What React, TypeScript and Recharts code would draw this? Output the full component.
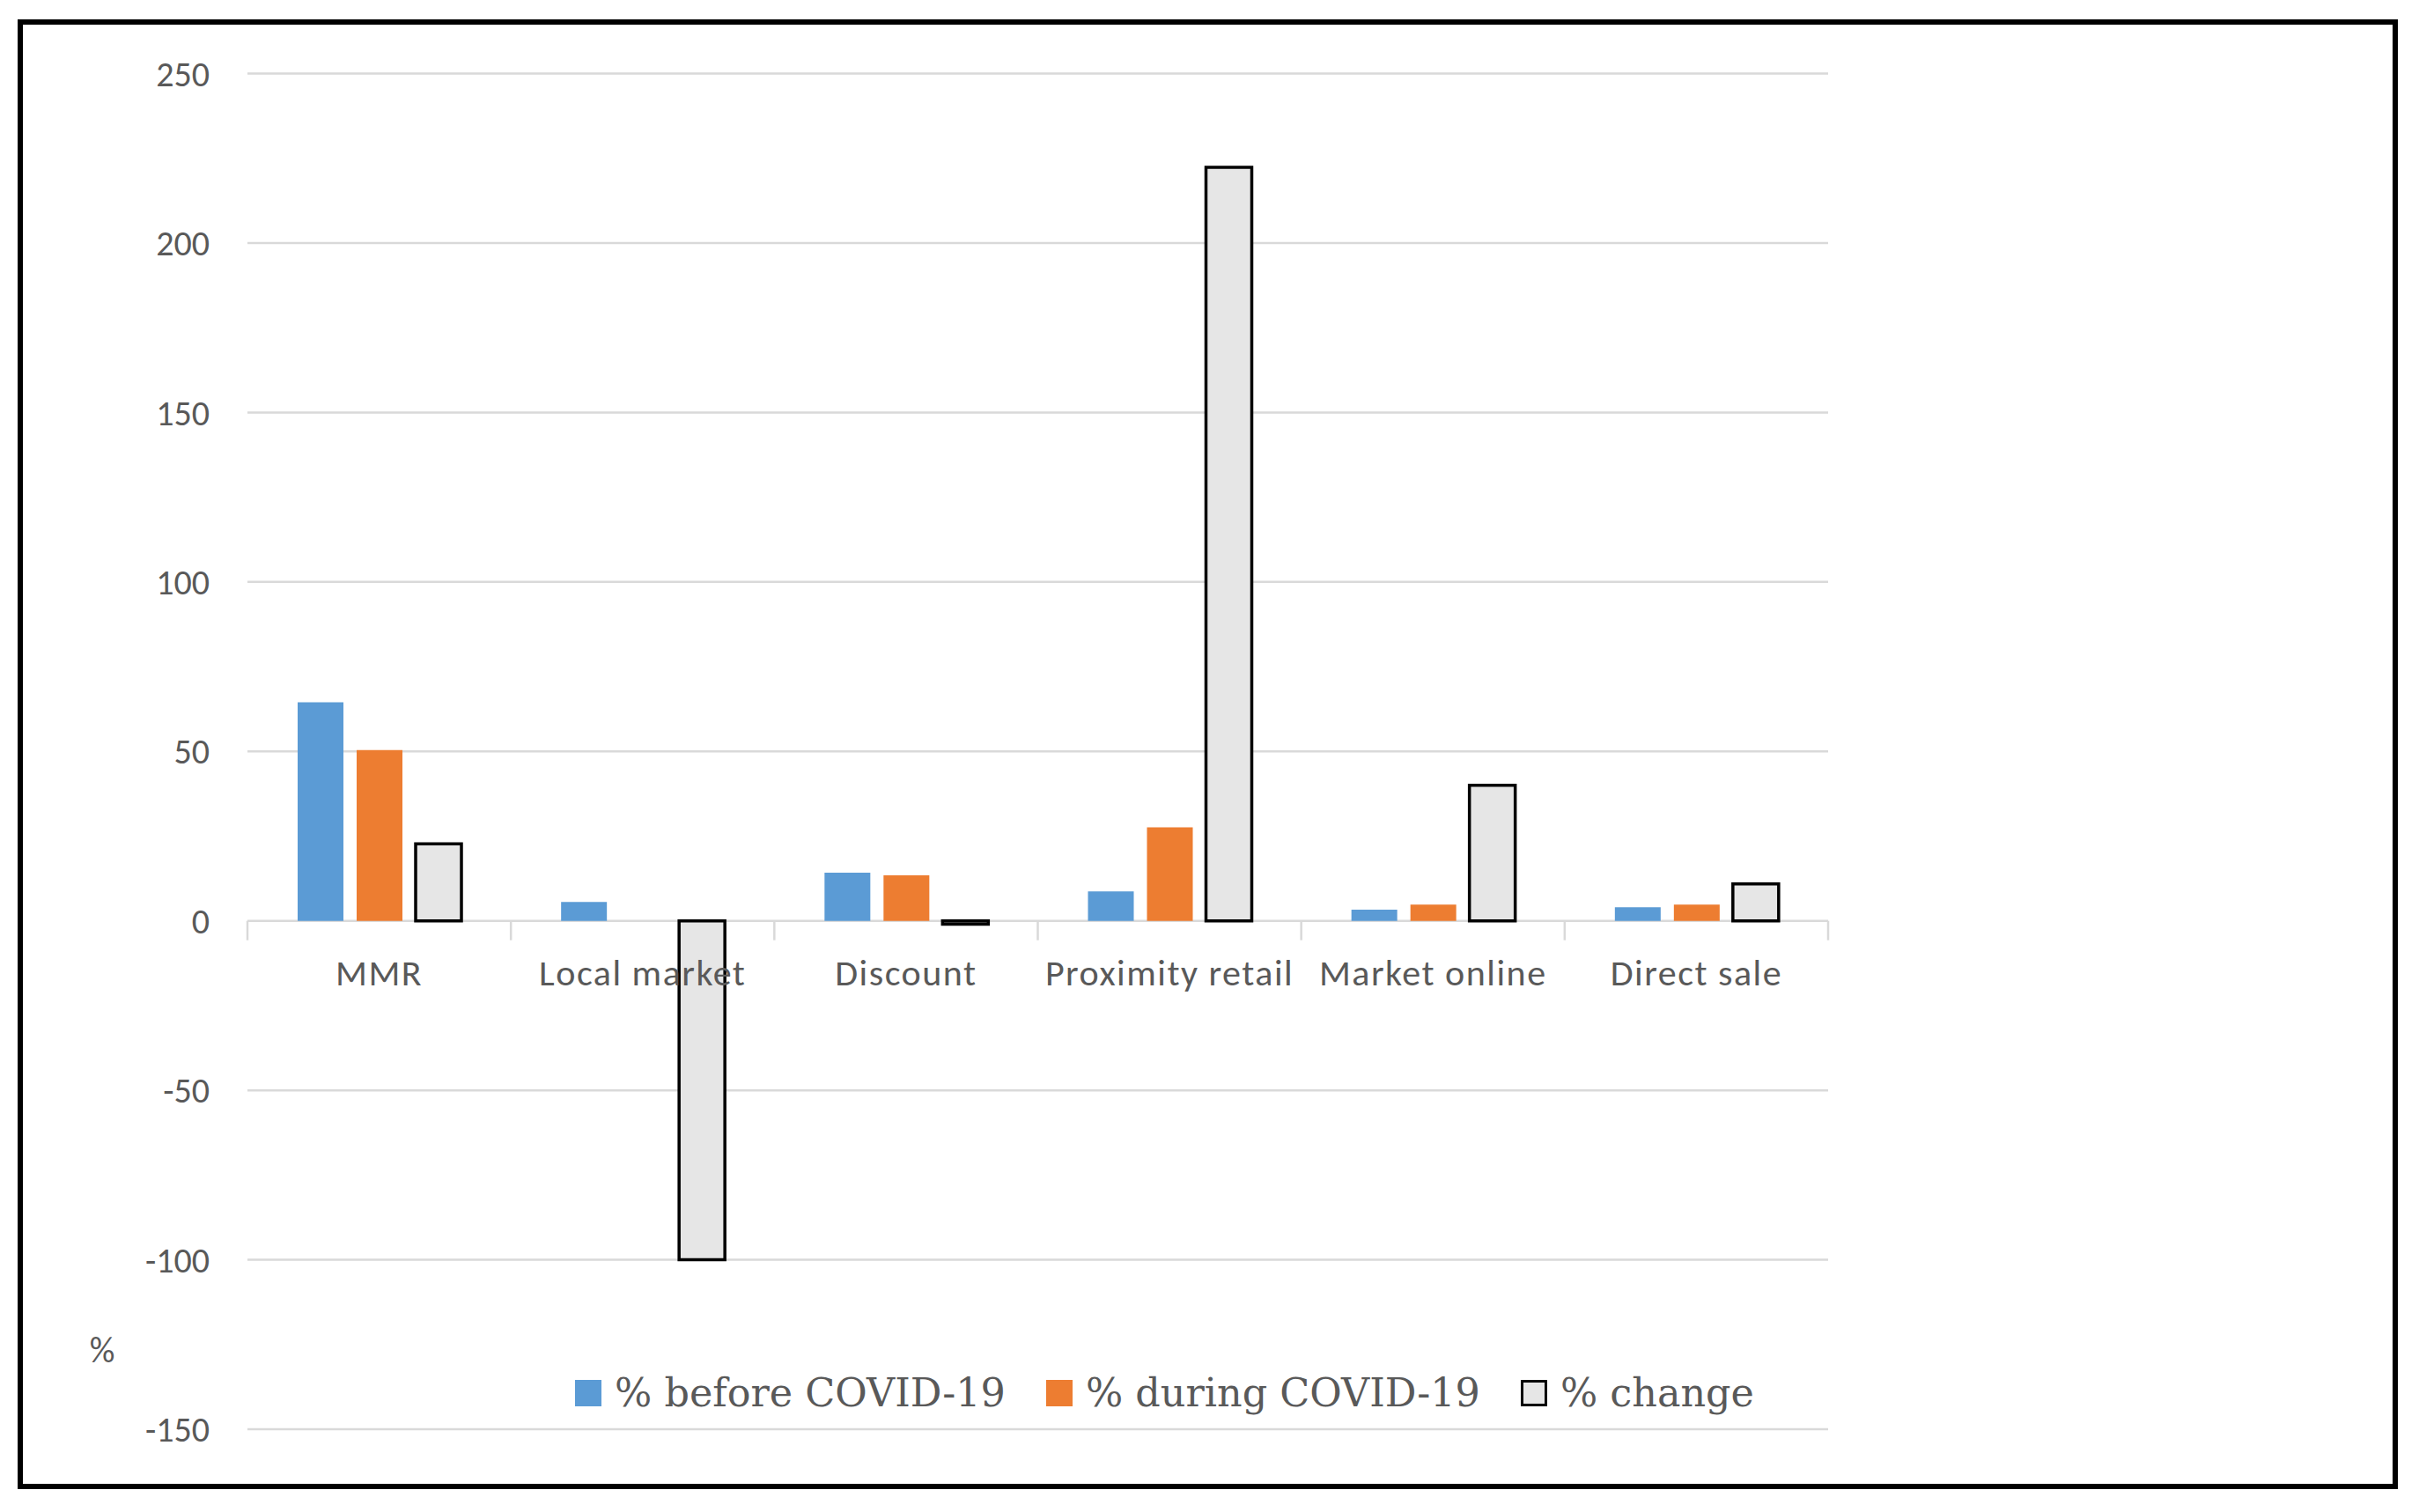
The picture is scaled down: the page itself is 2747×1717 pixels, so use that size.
import React from 'react';
import { Bar, BarChart, CartesianGrid, Legend, XAxis, YAxis } from 'recharts';

const categories = ['MMR', 'Local market', 'Discount', 'Proximity retail', 'Market online', 'Direct sale'];
const beforeCovid = [64.5, 5.6, 14.2, 8.7, 3.3, 4.0];
const duringCovid = [50.4, 0, 13.4, 27.6, 4.8, 4.8];
const change = [22.7, -100, -1, 222.3, 40, 10.9];
const yTicks = [-150, -100, -50, 0, 50, 100, 150, 200, 250];

const seriesNames = ['% before COVID-19', '% during COVID-19', '% change'];

const W = 2747;
const H = 1717;
const PLOT_LEFT = 281;
const PLOT_RIGHT = 2076;
const PLOT_TOP = 83.5;
const PLOT_BOTTOM = 1623;
const Y_AXIS_W = 80;
const X_AXIS_H = 40;

const Y_MIN = -150;
const Y_MAX = 250;
const ZERO_Y = PLOT_TOP + ((Y_MAX - 0) / (Y_MAX - Y_MIN)) * (PLOT_BOTTOM - PLOT_TOP);
const BAND = (PLOT_RIGHT - PLOT_LEFT) / categories.length;

const TEXT = '#595959';
const GRID = '#d9d9d9';
const SANS = 'Carlito, Lato, "Open Sans", sans-serif';

const data = categories.map((name, i) => ({
  name,
  before: beforeCovid[i],
  during: duringCovid[i],
  change: change[i],
}));

const swatches = [
  { fill: '#5b9bd5', stroke: 'none' },
  { fill: '#ed7d31', stroke: 'none' },
  { fill: '#e6e6e6', stroke: '#000' },
];

const CategoryTick = (props: any) => {
  const { x, payload, index } = props;
  const left = x - BAND / 2;
  return (
    <g>
      <line x1={left} x2={left} y1={ZERO_Y} y2={ZERO_Y + 22} stroke={GRID} strokeWidth={2.5} />
      {index === categories.length - 1 && (
        <line x1={left + BAND} x2={left + BAND} y1={ZERO_Y} y2={ZERO_Y + 22} stroke={GRID} strokeWidth={2.5} />
      )}
      <text
        x={x}
        y={ZERO_Y + 63}
        textAnchor="middle"
        dominantBaseline="middle"
        fill={TEXT}
        fontSize={42}
        letterSpacing={1.5}
        fontFamily={SANS}
      >
        {payload.value}
      </text>
    </g>
  );
};

const LegendContent = () => (
  <div style={{ display: 'flex', alignItems: 'center', whiteSpace: 'nowrap' }}>
    {seriesNames.map((name, i) => (
      <div key={name} style={{ display: 'flex', alignItems: 'center', marginRight: 46 }}>
        <span
          style={{
            width: 30,
            height: 30,
            boxSizing: 'border-box',
            background: swatches[i].fill,
            border: swatches[i].stroke === 'none' ? 'none' : `3.5px solid ${swatches[i].stroke}`,
            marginRight: 15,
            display: 'inline-block',
          }}
        />
        <span style={{ fontFamily: '"DejaVu Serif", serif', fontSize: 44.5, color: TEXT }}>{name}</span>
      </div>
    ))}
  </div>
);

export default function App() {
  return (
    <div style={{ position: 'absolute', left: 0, top: 0, width: W, height: H, background: '#fff' }}>
      <div
        style={{
          position: 'absolute',
          left: 20,
          top: 22,
          width: 2703,
          height: 1669,
          border: '6px solid #000',
          boxSizing: 'border-box',
        }}
      />
      <div style={{ position: 'absolute', left: 0, top: 0 }}>
        <BarChart
          width={W}
          height={H}
          data={data}
          barSize={52}
          barGap={15}
          margin={{
            top: PLOT_TOP,
            bottom: H - PLOT_BOTTOM - X_AXIS_H,
            left: PLOT_LEFT - Y_AXIS_W,
            right: W - PLOT_RIGHT,
          }}
        >
          <CartesianGrid vertical={false} stroke={GRID} strokeWidth={2.5} />
          <XAxis
            dataKey="name"
            height={X_AXIS_H}
            axisLine={false}
            tickLine={false}
            interval={0}
            tick={<CategoryTick />}
          />
          <YAxis
            width={Y_AXIS_W}
            domain={[Y_MIN, Y_MAX]}
            ticks={yTicks}
            axisLine={false}
            tickLine={false}
            tickSize={0}
            tickMargin={43}
            tick={{ fill: TEXT, fontSize: 40, fontFamily: SANS }}
            label={{
              content: () => (
                <text
                  x={116}
                  y={1537}
                  textAnchor="middle"
                  dominantBaseline="middle"
                  fill={TEXT}
                  fontSize={40}
                  fontFamily={SANS}
                >
                  %
                </text>
              ),
            }}
          />
          <Legend
            verticalAlign="middle"
            align="center"
            content={<LegendContent />}
            wrapperStyle={{ left: 653, top: 1556, width: 'auto' }}
          />
          <Bar dataKey="before" name={seriesNames[0]} fill={swatches[0].fill} isAnimationActive={false} />
          <Bar dataKey="during" name={seriesNames[1]} fill={swatches[1].fill} isAnimationActive={false} />
          <Bar
            dataKey="change"
            name={seriesNames[2]}
            fill={swatches[2].fill}
            stroke={swatches[2].stroke}
            strokeWidth={3.5}
            isAnimationActive={false}
          />
        </BarChart>
      </div>
    </div>
  );
}
